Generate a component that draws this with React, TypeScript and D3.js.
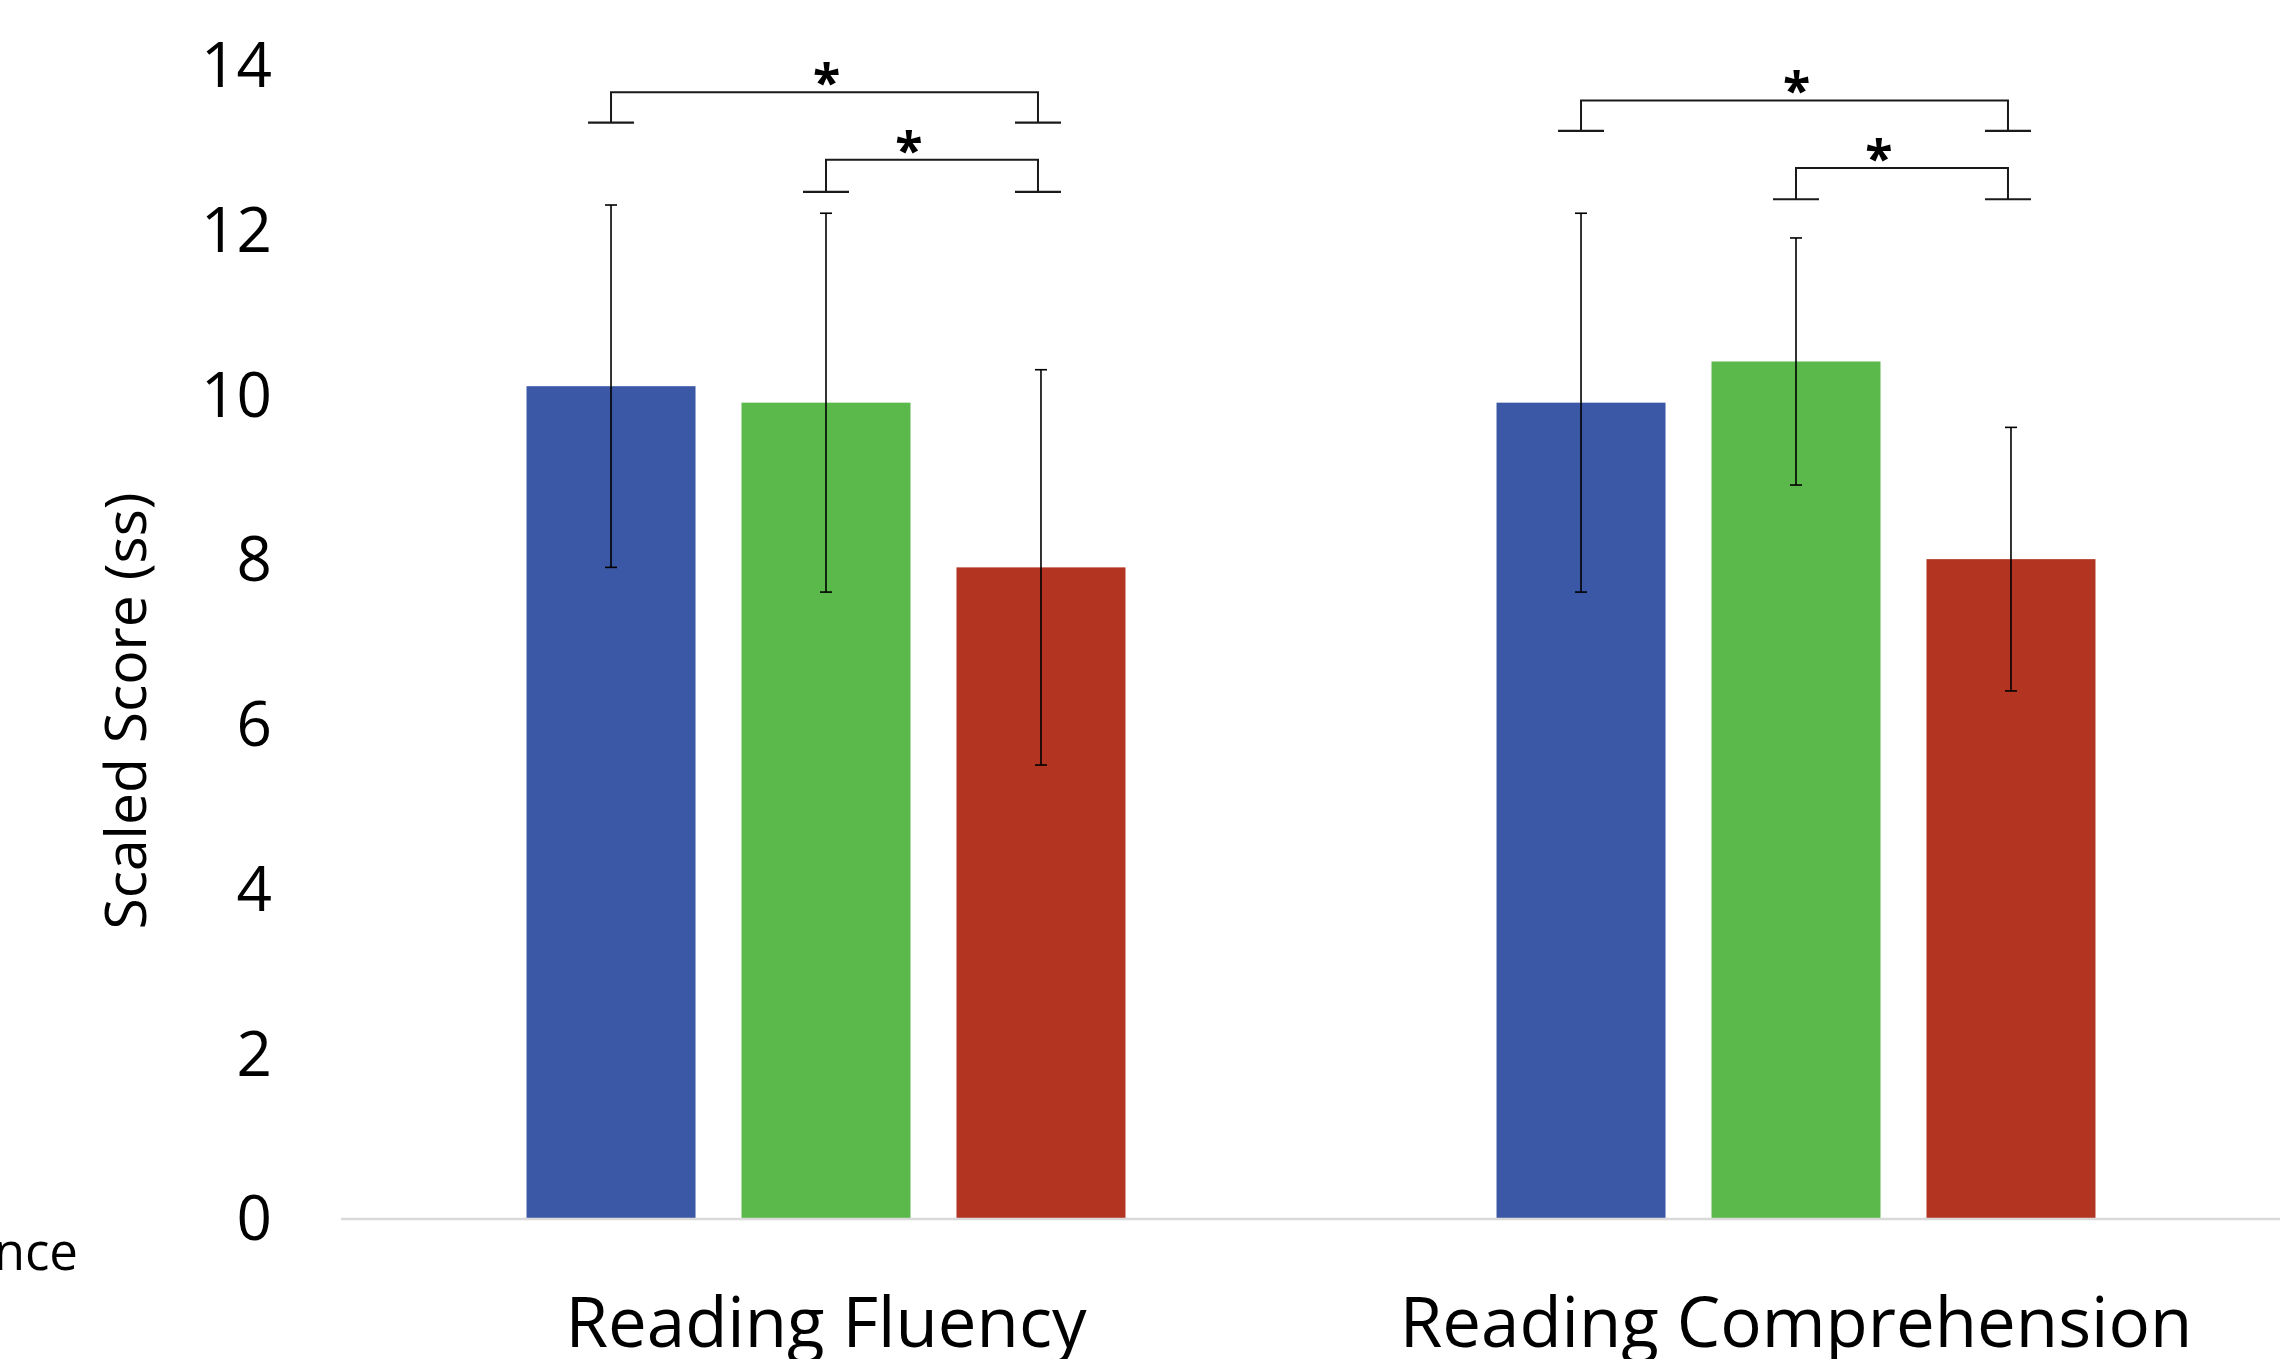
import React from "react";
import * as d3 from "d3";

const width = 2280;
const height = 1359;

// categories and series
const categories = ["Reading Fluency", "Reading Comprehension"];
const seriesNames = ["Group A", "Group B", "Group C"];
const seriesColors = ["#3b58a6", "#5ab94a", "#b43422"];

// means per series (one value per category)
const blueMeans = [10.1, 9.9];
const greenMeans = [9.9, 10.4];
const redMeans = [7.9, 8.0];
// error bar half-lengths
const blueErr = [2.2, 2.3];
const greenErr = [2.3, 1.5];
const redErr = [2.4, 1.6];

const yTicks = [0, 2, 4, 6, 8, 10, 12, 14];

// significance brackets: category index, series from/to, bar level, foot level
const comparisons = [
  { cat: 0, from: 0, to: 2, top: 13.67, foot: 13.3, inner: false },
  { cat: 0, from: 1, to: 2, top: 12.85, foot: 12.46, inner: true },
  { cat: 1, from: 0, to: 2, top: 13.57, foot: 13.2, inner: false },
  { cat: 1, from: 1, to: 2, top: 12.75, foot: 12.37, inner: true },
];

const means = [blueMeans, greenMeans, redMeans];
const errs = [blueErr, greenErr, redErr];

const font = "'Open Sans', 'Noto Sans', sans-serif";

export default function App() {
  const x0 = d3.scaleBand().domain(categories).range([341, 2281]);
  const x1 = d3
    .scaleBand()
    .domain(seriesNames)
    .range([0, x0.bandwidth()])
    .paddingInner(46 / 215)
    .paddingOuter(0.863);
  const y = d3.scaleLinear().domain([0, 14]).range([1218, 65]);

  const barCenter = (c: number, s: number) =>
    (x0(categories[c]) as number) + (x1(seriesNames[s]) as number) + x1.bandwidth() / 2;

  const capW = 6;
  const footW = 23;

  return (
    <svg
      width={width}
      height={height}
      style={{ position: "absolute", left: 0, top: 0, background: "#fff" }}
    >
      {/* y tick labels */}
      {yTicks.map((t) => (
        <text
          key={t}
          x={272}
          y={y(t)}
          dy="0.36em"
          textAnchor="end"
          fontFamily={font}
          fontSize={62}
          fill="#000"
        >
          {t}
        </text>
      ))}

      {/* y axis title */}
      <text
        transform={`translate(146, ${711}) rotate(-90)`}
        textAnchor="middle"
        fontFamily={font}
        fontSize={57}
        fill="#000"
      >
        Scaled Score (ss)
      </text>

      {/* clipped legend remnant */}
      <text x={78} y={1270} textAnchor="end" fontFamily={font} fontSize={51} fill="#000">
        nce
      </text>

      {/* bars */}
      {categories.map((cat, ci) => (
        <g key={cat} transform={`translate(${x0(cat)},0)`}>
          {seriesNames.map((s, si) => (
            <rect
              key={s}
              x={x1(s)}
              y={y(means[si][ci])}
              width={x1.bandwidth()}
              height={y(0) - y(means[si][ci])}
              fill={seriesColors[si]}
            />
          ))}
        </g>
      ))}

      {/* baseline */}
      <line x1={341} x2={width} y1={y(0) + 1} y2={y(0) + 1} stroke="#d9d9d9" strokeWidth={2.5} />

      {/* error bars */}
      {categories.map((cat, ci) =>
        seriesNames.map((s, si) => {
          const cx = barCenter(ci, si);
          const hi = y(means[si][ci] + errs[si][ci]);
          const lo = y(means[si][ci] - errs[si][ci]);
          return (
            <g key={cat + s} stroke="#000" strokeWidth={1.6}>
              <line x1={cx} x2={cx} y1={hi} y2={lo} />
              <line x1={cx - capW} x2={cx + capW} y1={hi} y2={hi} />
              <line x1={cx - capW} x2={cx + capW} y1={lo} y2={lo} />
            </g>
          );
        })
      )}

      {/* significance brackets */}
      {comparisons.map((c, i) => {
        const xa = barCenter(c.cat, c.from);
        const xb = barCenter(c.cat, c.to) - 3;
        const yt = y(c.top);
        const yf = y(c.foot);
        const starX = (xa + xb) / 2 + (c.inner ? -23 : 2);
        return (
          <g key={i}>
            <path
              d={`M${xa},${yf}V${yt}H${xb}V${yf}`}
              fill="none"
              stroke="#1a1a1a"
              strokeWidth={2}
            />
            <line x1={xa - footW} x2={xa + footW} y1={yf} y2={yf} stroke="#1a1a1a" strokeWidth={2.2} />
            <line x1={xb - footW} x2={xb + footW} y1={yf} y2={yf} stroke="#1a1a1a" strokeWidth={2.2} />
            <text
              x={starX}
              y={yt + 8}
              textAnchor="middle"
              fontFamily={font}
              fontWeight="bold"
              fontSize={50}
              fill="#000"
            >
              *
            </text>
          </g>
        );
      })}

      {/* category labels */}
      {categories.map((cat) => (
        <text
          key={cat}
          x={(x0(cat) as number) + x0.bandwidth() / 2}
          y={1347}
          textAnchor="middle"
          fontFamily={font}
          fontSize={69}
          fill="#000"
        >
          {cat}
        </text>
      ))}
    </svg>
  );
}
